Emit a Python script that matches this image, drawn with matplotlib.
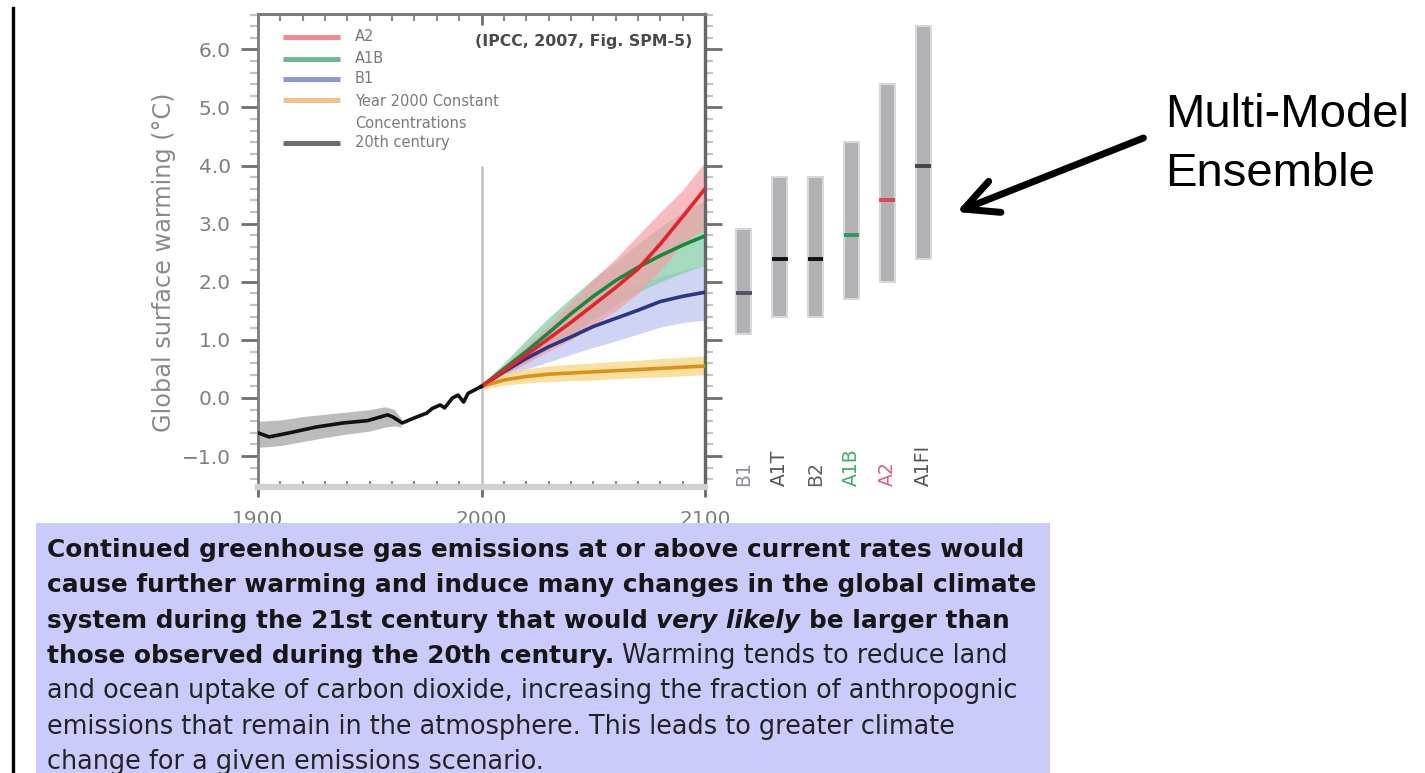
import matplotlib
matplotlib.use("Agg")
import matplotlib.pyplot as plt
import numpy as np
from matplotlib.patches import Rectangle, FancyArrowPatch
from matplotlib.lines import Line2D
from matplotlib.ticker import MultipleLocator, FixedLocator, FixedFormatter

# ---------------------------------------------------------------- data
# 20th century observed/simulated warming (deg C)
hist_years = [1900, 1905, 1914, 1926, 1938, 1949, 1958, 1960.5, 1964.5, 1969.5,
              1975.5, 1978, 1981.5, 1983.5, 1987, 1989.5, 1992, 1994, 2000]
hist_temp = [-0.60, -0.67, -0.60, -0.50, -0.43, -0.39, -0.29, -0.33, -0.43, -0.35,
             -0.26, -0.18, -0.12, -0.17, 0.00, 0.05, -0.07, 0.08, 0.20]
hist_band_years = [1900, 1910, 1920, 1930, 1940, 1950, 1957, 1961, 1964]
hist_band_lo = [-0.85, -0.82, -0.75, -0.68, -0.62, -0.57, -0.50, -0.48, -0.50]
hist_band_hi = [-0.40, -0.38, -0.32, -0.28, -0.24, -0.20, -0.15, -0.20, -0.35]

# 21st century scenario projections
proj_years = [2000, 2010, 2020, 2030, 2040, 2050, 2060, 2070, 2080, 2090, 2100]
a2_mean = [0.20, 0.47, 0.74, 1.02, 1.30, 1.60, 1.90, 2.22, 2.65, 3.12, 3.60]
a2_lo = [0.18, 0.40, 0.60, 0.80, 1.00, 1.25, 1.50, 1.80, 2.20, 2.65, 2.92]
a2_hi = [0.22, 0.55, 0.90, 1.25, 1.65, 2.05, 2.40, 2.80, 3.20, 3.58, 4.06]
a1b_mean = [0.20, 0.50, 0.80, 1.12, 1.45, 1.75, 2.02, 2.25, 2.45, 2.63, 2.79]
a1b_lo = [0.18, 0.40, 0.60, 0.85, 1.08, 1.35, 1.60, 1.82, 2.00, 2.15, 2.29]
a1b_hi = [0.22, 0.60, 1.00, 1.38, 1.72, 2.05, 2.35, 2.65, 2.95, 3.20, 3.41]
b1_mean = [0.20, 0.45, 0.68, 0.88, 1.05, 1.23, 1.37, 1.51, 1.66, 1.75, 1.82]
b1_lo = [0.18, 0.35, 0.50, 0.62, 0.75, 0.87, 0.98, 1.10, 1.22, 1.30, 1.34]
b1_hi = [0.22, 0.55, 0.88, 1.15, 1.38, 1.60, 1.80, 1.95, 2.10, 2.20, 2.29]
const_mean = [0.20, 0.31, 0.37, 0.41, 0.43, 0.45, 0.47, 0.49, 0.51, 0.53, 0.55]
const_lo = [0.15, 0.22, 0.26, 0.28, 0.30, 0.31, 0.33, 0.35, 0.36, 0.38, 0.40]
const_hi = [0.25, 0.42, 0.50, 0.55, 0.58, 0.60, 0.63, 0.65, 0.68, 0.70, 0.72]

# likely ranges and best estimates at 2090-2099
scenarios = ["B1", "A1T", "B2", "A1B", "A2", "A1FI"]
best_est = [1.8, 2.4, 2.4, 2.8, 3.4, 4.0]
range_lo = [1.1, 1.4, 1.4, 1.7, 2.0, 2.4]
range_hi = [2.9, 3.8, 3.8, 4.4, 5.4, 6.4]

legend_labels = ["A2", "A1B", "B1", "Year 2000 Constant\nConcentrations", "20th century"]
y_ticks = [-1, 0, 1, 2, 3, 4, 5, 6]
y_tick_labels = ["\u22121.0", "0.0", "1.0", "2.0", "3.0", "4.0", "5.0", "6.0"]
x_ticks = [1900, 2000, 2100]

# ---------------------------------------------------------------- figure
W, H = 1425, 773
fig = plt.figure(figsize=(W / 100, H / 100), dpi=100)
fig.patch.set_facecolor("white")


def fx(px):
    return px / W


def fy(py):
    return 1 - py / H


AX_L, AX_R, AX_T, AX_B = 258, 705, 14, 487
ax = fig.add_axes([fx(AX_L), fy(AX_B), (AX_R - AX_L) / W, (AX_B - AX_T) / H])
ax.set_xlim(1900, 2100)
ax.set_ylim(-1.532, 6.609)

c_a2, c_a1b, c_b1, c_const = "#e8202c", "#138a40", "#2a3585", "#d8921a"

# uncertainty bands
ax.fill_between(hist_band_years, hist_band_lo, hist_band_hi, color="#a6a6a6",
                alpha=0.75, lw=0)
ax.fill_between(proj_years, b1_lo, b1_hi, color="#b6bdf0", alpha=0.65, lw=0)
ax.fill_between(proj_years, a1b_lo, a1b_hi, color="#86d0a8", alpha=0.75, lw=0)
ax.fill_between(proj_years, a2_lo, a2_hi, color="#f4a0a6", alpha=0.7, lw=0)
ax.fill_between(proj_years, const_lo, const_hi, color="#fbd88a", alpha=0.8, lw=0)

# year-2000 divider
ax.vlines(2000, -1.532, 4.0, color="#c6c6c6", lw=2, zorder=1)

# mean curves
ax.plot(proj_years, b1_mean, color=c_b1, lw=2.6, zorder=3)
ax.plot(proj_years, a1b_mean, color=c_a1b, lw=2.6, zorder=3)
ax.plot(proj_years, a2_mean, color=c_a2, lw=2.6, zorder=4)
ax.plot(proj_years, const_mean, color=c_const, lw=2.6, zorder=3)
ax.plot(hist_years, hist_temp, color="#111111", lw=2.6, zorder=5)

# spines
for side in ("left", "top"):
    ax.spines[side].set_color("#7c7c7c")
    ax.spines[side].set_linewidth(2)
ax.spines["right"].set_color("#666666")
ax.spines["right"].set_linewidth(2.4)
ax.spines["bottom"].set_color("#d0d0d0")
ax.spines["bottom"].set_linewidth(4.5)

# y ticks (both sides, outward)
ax.yaxis.set_major_locator(FixedLocator(y_ticks))
ax.yaxis.set_major_formatter(FixedFormatter(y_tick_labels))
ax.yaxis.set_minor_locator(MultipleLocator(0.2))
ax.tick_params(axis="y", which="major", left=True, right=True, direction="out",
               length=12.5, width=2, color="#707070", labelcolor="#7e7e7e",
               labelsize=14.5, pad=7)
ax.tick_params(axis="y", which="minor", left=True, right=True, direction="out",
               length=6, width=1.6, color="#c2c2c2")

# x ticks: bottom major outward, minor inward
ax.xaxis.set_major_locator(FixedLocator(x_ticks))
ax.xaxis.set_minor_locator(MultipleLocator(10))
ax.tick_params(axis="x", which="major", direction="out", length=7.5, width=2,
               color="#6a6a6a", labelcolor="#7e7e7e", labelsize=14.5, pad=9)
ax.tick_params(axis="x", which="minor", direction="in", length=4, width=1.5,
               color="#8a8a8a")

# top ticks pointing into the plot
top = ax.secondary_xaxis("top")
top.xaxis.set_major_locator(FixedLocator(x_ticks))
top.xaxis.set_minor_locator(MultipleLocator(10))
top.tick_params(axis="x", which="major", direction="in", length=8, width=2,
                color="#6e6e6e", labeltop=False)
top.tick_params(axis="x", which="minor", direction="in", length=5, width=1.5,
                color="#8a8a8a")
top.spines["top"].set_color("#7c7c7c")
top.spines["top"].set_linewidth(2)

ax.set_ylabel("Global surface warming (\u00b0C)", fontsize=17.3, color="#8a8a8a")
ax.yaxis.label.set_va("center")
ax.yaxis.set_label_coords((164 - AX_L) / (AX_R - AX_L), (AX_B - 262) / (AX_B - AX_T))

# legend
leg_colors = ["#f08890", "#6db88e", "#8a9ad0", "#f5c08c", "#6e6e6e"]
leg_rows = [37, 59, 79, 100, 143]
for lab, col, row in zip(legend_labels, leg_colors, leg_rows):
    yy = (AX_B - row) / (AX_B - AX_T)
    ax.plot([0.056, 0.183], [yy, yy], color=col, lw=3.6, transform=ax.transAxes,
            solid_capstyle="butt", zorder=6)
    if "\n" in lab:
        ax.text(0.217, yy + 0.012, lab, transform=ax.transAxes, fontsize=10.5,
                color="#7a7a7a", va="top", linespacing=1.55, zorder=6)
    else:
        ax.text(0.217, yy, lab, transform=ax.transAxes, fontsize=10.5,
                color="#7a7a7a", va="center", zorder=6)

ax.text((692 - AX_L) / (AX_R - AX_L), (AX_B - 42) / (AX_B - AX_T),
        "(IPCC, 2007, Fig. SPM-5)", transform=ax.transAxes, ha="right", va="center",
        fontsize=11.3, fontweight="bold", color="#4a4a4a")

# ensemble ranges panel
bx = fig.add_axes([fx(726), fy(AX_B), 215 / W, (AX_B - AX_T) / H], sharey=ax)
bx.set_xlim(0.5, 6.5)
bx.axis("off")
pos = np.arange(1, len(scenarios) + 1)
bar_h = [h - l for h, l in zip(range_hi, range_lo)]
bx.bar(pos, bar_h, bottom=range_lo, width=0.42, color="#b2b2b6",
       edgecolor="#d8d8d8", linewidth=1.5)
mean_cols = ["#505068", "#111111", "#111111", "#2f9a5c", "#e04450", "#454545"]
label_cols = ["#8c8ca8", "#555555", "#606060", "#48a870", "#e06080", "#555555"]
bx.hlines(best_est, pos - 0.22, pos + 0.22, colors=mean_cols, lw=2.8)
for p, name, col in zip(pos, scenarios, label_cols):
    bx.text(p, -1.52, name, rotation=90, ha="center", va="bottom", fontsize=13.5,
            color=col)

# ---------------------------------------------------------------- annotations
fig.add_artist(Line2D([fx(13.3), fx(13.3)], [fy(8), fy(773)], color="black", lw=2.4))

fig.text(fx(1165), fy(127), "Multi-Model", family="Liberation Sans", fontsize=34,
         color="black", va="baseline", ha="left")
fig.text(fx(1165), fy(186), "Ensemble", family="Liberation Sans", fontsize=34,
         color="black", va="baseline", ha="left")
arrow = FancyArrowPatch((fx(1146), fy(137)), (fx(954), fy(213)),
                        transform=fig.transFigure,
                        arrowstyle="->,head_length=24,head_width=12",
                        mutation_scale=1, color="black", lw=5,
                        capstyle="round", joinstyle="round")
fig.add_artist(arrow)

# summary text box
box = Rectangle((fx(36), fy(800)), fx(1050) - fx(36), fy(523) - fy(800),
                transform=fig.transFigure, facecolor="#cbcbfb", edgecolor="none",
                zorder=10)
fig.add_artist(box)

BOLD = dict(family="DejaVu Sans", weight="bold", size=17.8, color="#161616")
BOLDIT = dict(BOLD, style="italic")
REG = dict(family="DejaVu Sans", size=18.4, color="#222222")

summary_lines = [
    [("Continued greenhouse gas emissions at or above current rates would", BOLD)],
    [("cause further warming and induce many changes in the global climate", BOLD)],
    [("system during the 21st century that would", BOLD), ("very likely", BOLDIT),
     ("be larger than", BOLD)],
    [("those observed during the 20th century.", BOLD),
     ("Warming tends to reduce land", REG)],
    [("and ocean uptake of carbon dioxide, increasing the fraction of anthropognic", REG)],
    [("emissions that remain in the atmosphere. This leads to greater climate", REG)],
    [("change for a given emissions scenario.", REG)],
]

renderer = fig.canvas.get_renderer()


def text_width(s, props):
    t = fig.text(0, 0, s, **props)
    w = t.get_window_extent(renderer).width
    t.remove()
    return w


for i, segs in enumerate(summary_lines):
    x = 47.0
    base = 557 + 35.3 * i
    for j, (s, props) in enumerate(segs):
        if j > 0:
            x += text_width("x x", props) - text_width("xx", props)
        t = fig.text(fx(x), fy(base), s, va="baseline", ha="left", zorder=11,
                     **props)
        x = t.get_window_extent(renderer).x1

fig.savefig("out.png", dpi=100)
